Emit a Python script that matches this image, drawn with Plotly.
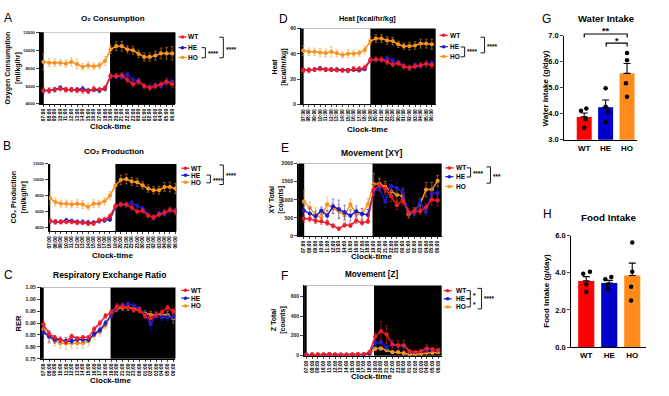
import plotly.graph_objects as go

W, H = 669, 396
FONT = "Liberation Sans, Arial, sans-serif"


def px(x):
    return x / W


def py(y):
    return 1 - y / H


# ---------------- data ----------------
times = ["07:00", "08:00", "09:00", "10:00", "11:00", "12:00", "13:00", "14:00",
         "15:00", "16:00", "17:00", "18:00", "19:00", "20:00", "21:00", "22:00",
         "23:00", "00:00", "01:00", "02:00", "03:00", "04:00", "05:00", "06:00"]
groups = ["WT", "HE", "HO"]

# A: O2 consumption
WT_o2 = [5500, 5500, 5600, 5700, 5600, 5600, 5500, 5500, 5400, 5700, 5600, 5800,
         7100, 7100, 7200, 6700, 6200, 6500, 6000, 5800, 6000, 6200, 6500, 6200]
HE_o2 = [5500, 5500, 5600, 5800, 5600, 5600, 5600, 5700, 5500, 5600, 5500, 5700,
         7100, 7100, 7000, 7300, 6700, 6600, 6000, 5900, 6100, 6000, 6400, 6500]
HO_o2 = [8700, 8600, 8600, 8600, 8500, 8700, 8450, 8150, 8300, 8200, 8300, 8800,
         10100, 10450, 10450, 10100, 10000, 9600, 9250, 9250, 9400, 9650, 9650, 9650]
WT_o2_e = [300, 300, 250, 250, 250, 250, 250, 300, 250, 300, 250, 250,
           300, 300, 300, 350, 300, 300, 300, 300, 300, 350, 350, 400]
HE_o2_e = [250, 250, 250, 250, 250, 250, 250, 300, 250, 250, 250, 250,
           250, 250, 250, 300, 300, 300, 300, 300, 300, 300, 350, 350]
HO_o2_e = [900, 450, 400, 350, 400, 450, 550, 350, 400, 350, 350, 500,
           450, 500, 550, 400, 450, 400, 450, 450, 500, 600, 650, 750]

# B: CO2 production
WT_co2 = [4800, 4700, 4700, 4700, 4700, 4600, 4600, 4500, 4500, 4900, 5000, 5400,
          6700, 6900, 6900, 6500, 6000, 6100, 5500, 5300, 5600, 5900, 6200, 6000]
HE_co2 = [4800, 4700, 4700, 4900, 4800, 4700, 4700, 4600, 4600, 4800, 4900, 5000,
          6600, 6900, 6800, 7100, 6700, 6400, 5600, 5200, 5800, 5700, 6200, 6100]
HO_co2 = [7700, 7200, 7000, 7000, 6900, 7000, 6900, 6600, 7000, 7000, 7300, 8000,
          9300, 10000, 10100, 9800, 9700, 9300, 8900, 8700, 8700, 9100, 9100, 8900]
WT_co2_e = [300, 300, 250, 250, 250, 250, 250, 300, 250, 300, 300, 350,
            300, 300, 300, 350, 300, 300, 300, 300, 300, 350, 350, 400]
HE_co2_e = [250, 250, 250, 250, 250, 250, 250, 300, 250, 250, 250, 250,
            250, 250, 250, 300, 300, 300, 300, 300, 300, 300, 350, 350]
HO_co2_e = [800, 500, 450, 450, 450, 500, 500, 400, 500, 450, 450, 500,
            550, 600, 600, 500, 500, 450, 450, 450, 500, 550, 600, 650]

# C: RER
WT_rer = [0.895, 0.855, 0.840, 0.830, 0.820, 0.845, 0.835, 0.840, 0.840, 0.875, 0.900, 0.930,
          0.945, 0.970, 0.970, 0.965, 0.955, 0.955, 0.930, 0.920, 0.935, 0.945, 0.965, 0.950]
HE_rer = [0.860, 0.845, 0.830, 0.830, 0.825, 0.825, 0.830, 0.830, 0.830, 0.855, 0.870, 0.900,
          0.935, 0.965, 0.975, 0.980, 0.975, 0.960, 0.935, 0.895, 0.935, 0.925, 0.925, 0.925]
HO_rer = [0.875, 0.840, 0.825, 0.815, 0.815, 0.815, 0.815, 0.815, 0.825, 0.850, 0.865, 0.890,
          0.935, 0.960, 0.965, 0.965, 0.960, 0.955, 0.940, 0.935, 0.935, 0.935, 0.935, 0.920]
WT_rer_e = [0.010, 0.010, 0.008, 0.008, 0.008, 0.008, 0.008, 0.008, 0.008, 0.010, 0.010, 0.010,
            0.012, 0.012, 0.012, 0.010, 0.010, 0.010, 0.012, 0.015, 0.010, 0.010, 0.010, 0.012]
HE_rer_e = [0.020, 0.025, 0.015, 0.012, 0.012, 0.010, 0.010, 0.010, 0.010, 0.012, 0.012, 0.012,
            0.012, 0.012, 0.010, 0.010, 0.010, 0.010, 0.015, 0.025, 0.015, 0.015, 0.015, 0.015]
HO_rer_e = [0.020, 0.025, 0.020, 0.020, 0.025, 0.020, 0.020, 0.020, 0.020, 0.020, 0.020, 0.015,
            0.012, 0.012, 0.012, 0.012, 0.012, 0.012, 0.012, 0.015, 0.012, 0.015, 0.015, 0.020]

# D: Heat
WT_heat = [27, 27, 27.5, 28, 27.5, 27.5, 27, 27, 26.5, 28, 28, 29,
           35, 35.5, 35.5, 33.5, 31.5, 32.5, 30, 29, 30, 31, 32, 31]
HE_heat = [27, 27, 27.5, 28.5, 27.5, 27.5, 27.5, 27, 27, 27.5, 27, 28,
           35, 35.5, 35, 36.5, 34.5, 33, 30.5, 28.5, 31, 30.5, 32, 32.5]
HO_heat = [42.5, 41.5, 41.5, 41, 40.5, 41.5, 40.5, 39, 40, 40, 40.5, 43,
           50, 52, 52, 50.5, 50, 47.5, 46, 46, 46.5, 48, 48, 47.5]
WT_heat_e = [2, 2, 1.5, 1.5, 1.5, 1.5, 1.5, 1.5, 1.5, 2, 2, 2,
             2, 2, 2, 2, 2, 2, 2, 2, 2, 2, 2.5, 2.5]
HE_heat_e = [1.5, 1.5, 1.5, 1.5, 1.5, 1.5, 1.5, 1.5, 1.5, 1.5, 1.5, 1.5,
             1.5, 1.5, 1.5, 2, 2, 2, 2, 2, 2, 2, 2, 2]
HO_heat_e = [4, 3, 3, 3, 3, 4, 3, 2.5, 3, 2.5, 2.5, 3,
             3, 3, 3, 3, 3, 2.5, 2.5, 3, 3, 3.5, 3.5, 4]

# E: Movement XY
WT_xy = [480, 470, 420, 400, 360, 280, 200, 300, 290, 420, 360, 400,
         1280, 1400, 1300, 1100, 850, 1000, 650, 680, 680, 800, 1000, 980]
HE_xy = [700, 620, 540, 700, 560, 820, 740, 650, 560, 680, 610, 580,
         1220, 1310, 950, 1380, 1320, 1200, 660, 620, 920, 660, 1180, 1190]
HO_xy = [950, 780, 580, 520, 870, 760, 680, 560, 870, 600, 590, 880,
         1430, 1440, 1360, 1230, 1140, 1100, 600, 680, 880, 1280, 1280, 1520]
WT_xy_e = [100, 80, 80, 80, 70, 60, 40, 60, 60, 70, 60, 60,
           150, 150, 150, 150, 120, 150, 100, 80, 80, 100, 150, 150]
HE_xy_e = [150, 150, 150, 100, 150, 200, 250, 200, 150, 150, 150, 150,
           200, 200, 150, 150, 150, 150, 100, 100, 150, 100, 200, 150]
HO_xy_e = [300, 150, 200, 100, 200, 150, 200, 150, 150, 150, 150, 150,
           300, 150, 150, 150, 200, 200, 100, 100, 150, 200, 200, 150]

# F: Movement Z
WT_z = [5, 8, 8, 8, 10, 8, 5, 5, 8, 10, 10, 30,
        190, 245, 210, 110, 100, 100, 40, 30, 40, 70, 60, 50]
HE_z = [5, 5, 5, 5, 8, 5, 5, 5, 5, 5, 5, 15,
        125, 130, 80, 110, 90, 95, 35, 30, 40, 50, 60, 55]
HO_z = [3, 3, 3, 3, 3, 3, 3, 3, 3, 3, 3, 8,
        65, 70, 50, 30, 30, 20, 10, 10, 15, 25, 25, 30]
WT_z_e = [3, 3, 3, 3, 3, 3, 3, 3, 3, 3, 3, 10,
          40, 100, 90, 40, 50, 50, 15, 10, 15, 40, 20, 20]
HE_z_e = [2, 2, 2, 2, 2, 2, 2, 2, 2, 2, 2, 5,
          40, 40, 30, 40, 30, 30, 15, 10, 15, 20, 20, 20]
HO_z_e = [1, 1, 1, 1, 1, 1, 1, 1, 1, 1, 1, 3,
          20, 20, 15, 10, 10, 8, 5, 5, 5, 10, 10, 10]

# G: Water intake
water_mean = [3.88, 4.25, 5.55]
water_sem = [0.15, 0.28, 0.38]
water_WT = [4.12, 4.20, 3.80, 3.46]
water_HE = [4.98, 4.27, 4.08, 3.68]
water_HO = [6.33, 6.05, 5.17, 4.65]

# H: Food intake
food_mean = [3.56, 3.45, 3.85]
food_sem = [0.23, 0.14, 0.67]
food_WT = [3.95, 4.05, 3.38, 2.98]
food_HE = [3.65, 3.77, 3.35, 3.12]
food_HO = [5.63, 4.05, 3.25, 2.51]

# ---------------- styling ----------------
COL = {"WT": "#ee1c25", "HE": "#1c1cc8", "HO": "#f7931e"}
ERRC = {"WT": "rgba(238,28,37,0.6)", "HE": "rgba(28,28,200,0.55)", "HO": "rgba(247,147,30,0.6)"}
BARC = {"WT": "#ff0000", "HE": "#0000c8", "HO": "#ff8c1a"}

fig = go.Figure()
annotations = []
shapes = []
layout_axes = {}


def ann(text, x, y, size, bold=True, xanchor="center", yanchor="middle", angle=0):
    annotations.append(dict(
        text=f"<b>{text}</b>" if bold else text, x=px(x), y=py(y), xref="paper", yref="paper",
        showarrow=False, xanchor=xanchor, yanchor=yanchor, textangle=angle,
        font=dict(size=size, color="black", family=FONT), borderpad=0))


def legend(xm, xt, ys):
    for name, y in zip(groups, ys):
        shapes.append(dict(type="line", xref="paper", yref="paper", x0=px(xm - 4), x1=px(xm + 4),
                           y0=py(y), y1=py(y), line=dict(color=COL[name], width=1.3)))
        shapes.append(dict(type="circle", xref="paper", yref="paper", x0=px(xm - 1.8), x1=px(xm + 1.8),
                           y0=py(y - 1.8), y1=py(y + 1.8), fillcolor=COL[name], line=dict(width=0)))
        ann(name, xt, y, 6.5, xanchor="left")


def vbracket(x, y0, y1, text, tx, ty, tick=4, size=6.5):
    path = (f"M {px(x - tick)},{py(y0)} L {px(x)},{py(y0)} "
            f"L {px(x)},{py(y1)} L {px(x - tick)},{py(y1)}")
    shapes.append(dict(type="path", xref="paper", yref="paper", path=path,
                       line=dict(color="black", width=0.9)))
    ann(text, tx, ty, size, xanchor="left")


def hbracket(x0, x1, y, text, ty, drop=3.5, size=9):
    path = (f"M {px(x0)},{py(y + drop)} L {px(x0)},{py(y)} "
            f"L {px(x1)},{py(y)} L {px(x1)},{py(y + drop)}")
    shapes.append(dict(type="path", xref="paper", yref="paper", path=path,
                       line=dict(color="black", width=1.2)))
    ann(text, (x0 + x1) / 2, ty, size)


def ts_panel(n, series, errs, xdom, ydom, xr, yr, yticks, fmt, white_end=11.9, yfont=5):
    s = "" if n == 1 else str(n)
    for name in ["HO", "HE", "WT"]:
        i = groups.index(name)
        fig.add_trace(go.Scatter(
            x=list(range(len(times))), y=series[i], xaxis="x" + s, yaxis="y" + s,
            mode="lines+markers", showlegend=False,
            line=dict(color=COL[name], width=1.5),
            marker=dict(color=COL[name], size=4.2, symbol="circle"),
            error_y=dict(type="data", array=errs[i], color=ERRC[name], thickness=0.9, width=1.4)))
    layout_axes["xaxis" + s] = dict(
        domain=[px(xdom[0]), px(xdom[1])], range=list(xr), anchor="y" + s,
        tickmode="array", tickvals=list(range(len(times))), ticktext=times, tickangle=-90,
        tickfont=dict(size=4.8, family=FONT, color="black", weight="bold"),
        ticks="outside", ticklen=2, tickwidth=0.7, showline=True, linecolor="black", linewidth=1,
        showgrid=False, zeroline=False)
    layout_axes["yaxis" + s] = dict(
        domain=[py(ydom[1]), py(ydom[0])], range=list(yr), anchor="x" + s,
        tickmode="array", tickvals=yticks, tickformat=fmt,
        tickfont=dict(size=yfont, family=FONT, color="#222", weight="bold"),
        ticks="outside", ticklen=3, tickwidth=0.8, showline=True, linecolor="black", linewidth=1,
        showgrid=False, zeroline=False)
    shapes.append(dict(type="rect", xref=f"x{s} domain", yref=f"y{s} domain", x0=0, x1=1, y0=0, y1=1,
                       fillcolor="black", line=dict(width=0), layer="below"))
    shapes.append(dict(type="rect", xref="x" + s, yref=f"y{s} domain", x0=0.05, x1=white_end, y0=0, y1=1,
                       fillcolor="white", line=dict(width=0), layer="below"))


# A
ts_panel(1, [WT_o2, HE_o2, HO_o2], [WT_o2_e, HE_o2_e, HO_o2_e], (39, 175), (29, 102.3),
         (-0.65, 23.6), (4000, 12000), [4000, 6000, 8000, 10000, 12000], "d", yfont=4.3)
# B
ts_panel(2, [WT_co2, HE_co2, HO_co2], [WT_co2_e, HE_co2_e, HO_co2_e], (48, 176), (163.7, 232.7),
         (-0.2, 23.2), (3500, 12000), [4000, 6000, 8000, 10000, 12000], "d", white_end=12.0, yfont=4.0)
# C
ts_panel(3, [WT_rer, HE_rer, HO_rer], [WT_rer_e, HE_rer_e, HO_rer_e], (40, 175), (290, 363),
         (-0.45, 23.4), (0.75, 1.05), [0.75, 0.80, 0.85, 0.90, 0.95, 1.00, 1.05], ".2f", yfont=5.3)
# D
ts_panel(4, [WT_heat, HE_heat, HO_heat], [WT_heat_e, HE_heat_e, HO_heat_e], (301, 436), (25, 102.7),
         (-0.4, 23.7), (0, 60), [0, 20, 40, 60], "d", white_end=12.0, yfont=5.3)
# E
ts_panel(5, [WT_xy, HE_xy, HO_xy], [WT_xy_e, HE_xy_e, HO_xy_e], (298, 442), (163.3, 237.3),
         (-1.0, 23.7), (0, 2000), [0, 500, 1000, 1500, 2000], "d", white_end=11.8, yfont=5.2)
# F
ts_panel(6, [WT_z, HE_z, HO_z], [WT_z_e, HE_z_e, HO_z_e], (304, 442), (288, 360),
         (-0.4, 23.6), (-7, 713), [0, 200, 400, 600], "d", white_end=11.8, yfont=5.0)


# bar panels
def bar_panel(n, means, sems, pts, offsets, xdom, ydom, xr, yr, yticks):
    s = str(n)
    fig.add_trace(go.Bar(
        x=[0, 1, 2], y=means, xaxis="x" + s, yaxis="y" + s, width=0.7, showlegend=False,
        marker=dict(color=[BARC[g] for g in groups], line=dict(width=0)),
        error_y=dict(type="data", symmetric=False, array=sems, arrayminus=[0, 0, 0],
                     color="black", thickness=1.1, width=3.5)))
    xs, ys = [], []
    for i, (p, off) in enumerate(zip(pts, offsets)):
        xs += [i + o for o in off]
        ys += p
    fig.add_trace(go.Scatter(x=xs, y=ys, xaxis="x" + s, yaxis="y" + s, mode="markers",
                             showlegend=False, marker=dict(color="black", size=4.5)))
    layout_axes["xaxis" + s] = dict(
        domain=[px(xdom[0]), px(xdom[1])], range=list(xr), anchor="y" + s,
        tickmode="array", tickvals=[0, 1, 2], ticktext=groups,
        tickfont=dict(size=8, family=FONT, color="black", weight="bold"),
        ticks="", showline=True, linecolor="black", linewidth=1.3,
        showgrid=False, zeroline=False)
    layout_axes["yaxis" + s] = dict(
        domain=[py(ydom[1]), py(ydom[0])], range=list(yr), anchor="x" + s,
        tickmode="array", tickvals=yticks, tickformat=".1f",
        tickfont=dict(size=7.5, family=FONT, color="black", weight="bold"),
        ticks="outside", ticklen=3, tickwidth=1.2, showline=True, linecolor="black", linewidth=1.3,
        showgrid=False, zeroline=False)


bar_panel(7, water_mean, water_sem, [water_WT, water_HE, water_HO],
          [[-0.15, 0.1, 0.05, 0.0], [0.0, 0.0, 0.1, 0.0], [0.0, 0.0, -0.05, 0.0]],
          (565, 638), (32.3, 139), (-0.93, 2.47), (3, 7), [3, 4, 5, 6, 7])
bar_panel(8, food_mean, food_sem, [food_WT, food_HE, food_HO],
          [[-0.13, 0.16, 0.0, 0.0], [-0.17, 0.09, -0.06, -0.06], [0.0, 0.0, -0.05, -0.05]],
          (572, 647), (237, 351), (-0.65, 2.6), (0, 6), [0, 2, 4, 6])

# ---------------- text ----------------
# panel letters
for letter, x, y in [("A", 7, 14), ("B", 6, 145), ("C", 8, 277), ("D", 283, 15),
                     ("E", 285, 147), ("F", 284, 278), ("G", 547, 15), ("H", 548, 215)]:
    ann(letter, x, y, 12, bold=False)

# titles
ann("O₂ Consumption", 112, 15, 8)
ann("CO₂ Production", 113, 151, 8)
ann("Respiratory Exchange Ratio", 109, 277, 8.5)
ann("Heat [kcal/hr/kg]", 368, 15, 7.3)
ann("Movement [XY]", 372, 152, 8.5)
ann("Movement [Z]", 372, 277, 8.2)
ann("Water Intake", 607, 15, 9.5)
ann("Food Intake", 610, 218, 9.8)

# axis titles
ann("Oxygen Consumption<br>[ml/kg/hr]", 12, 65, 7, angle=-90)
ann("CO₂ Production<br>[ml/kg/hr]", 18, 197, 7, angle=-90)
ann("RER", 18, 327, 7.5, angle=-90)
ann("Heat<br>[kcal/hr/kg]", 279, 65, 7, angle=-90)
ann("XY Total<br>[counts]", 276, 200, 7, angle=-90)
ann("Z Total<br>[counts]", 278, 323, 7, angle=-90)
ann("Water intake (g/day)", 546, 86, 8, angle=-90)
ann("Food Intake (g/day)", 547, 293, 8, angle=-90)
for x, y in [(110, 125), (112, 257), (110, 385), (368, 128), (372, 258), (372, 381)]:
    ann("Clock-time", x, y, 8)

# legends and significance
legend(182, 187, [33.7, 44.7, 54.7])
vbracket(205, 44.7, 55, "****", 206.5, 50.5)
vbracket(223, 34, 55, "****", 224.5, 46.5)

legend(185, 190, [168, 175.3, 182.3])
vbracket(210, 175, 183, "****", 211.5, 180.5)
vbracket(223, 164.7, 184.7, "****", 224.5, 175)

legend(185, 190, [293, 301, 309])

legend(444, 449, [32, 43.7, 53.7])
vbracket(465, 44, 54, "****", 466.5, 49)
vbracket(485, 34, 50, "****", 486.5, 43)

legend(449.7, 455, [167.7, 176.7, 186.7])
vbracket(471, 167.7, 177, "****", 472.5, 173.5)
vbracket(491, 166.7, 183.3, "***", 492.5, 176.5)

legend(448, 455, [293.3, 301.7, 310])
vbracket(470.7, 293.3, 301.7, "*", 472, 298.5)
vbracket(470.7, 301.7, 310, "*", 472, 307)
vbracket(482, 291, 312, "****", 483.5, 301.5)

hbracket(585, 628, 30.7, "**", 27.5)
hbracket(607, 628, 40, "*", 37.5)

fig.update_layout(
    width=W, height=H, margin=dict(l=0, r=0, t=0, b=0),
    paper_bgcolor="white", plot_bgcolor="rgba(0,0,0,0)",
    font=dict(family=FONT, color="black"),
    showlegend=False, annotations=annotations, shapes=shapes, bargap=0.3,
    **layout_axes)

fig.write_html("out.html")
